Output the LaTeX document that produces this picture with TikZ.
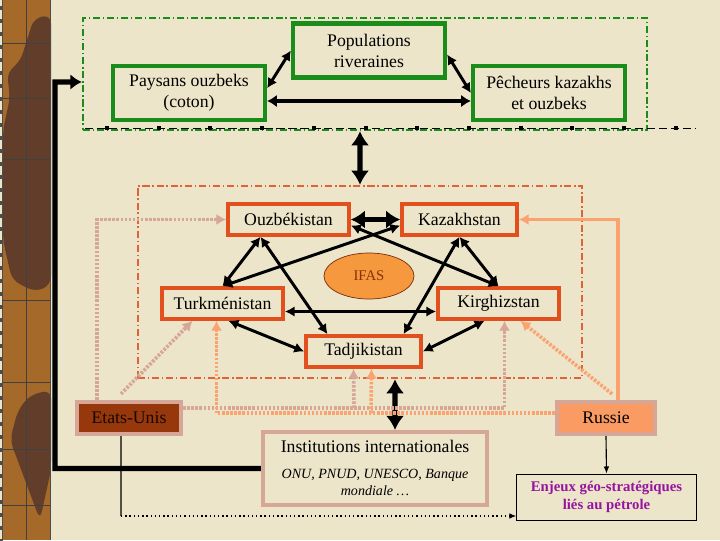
\documentclass[tikz,border=0pt]{standalone}
\usepackage{fontspec}
\setmainfont{Liberation Serif}
\usetikzlibrary{arrows.meta,calc,shapes.geometric}

\definecolor{papier}{RGB}{236,229,202}
\definecolor{vert}{RGB}{25,140,25}
\definecolor{rouille}{RGB}{226,80,30}
\definecolor{cadre}{RGB}{222,100,55}
\definecolor{sable}{RGB}{214,166,150}
\definecolor{saumon}{RGB}{250,163,112}
\definecolor{brique}{RGB}{150,55,12}
\definecolor{abricot}{RGB}{246,152,62}
\definecolor{pelure}{RGB}{250,155,100}
\definecolor{prune}{RGB}{150,20,160}
\definecolor{pellicule}{RGB}{165,105,42}
\definecolor{pelliculesombre}{RGB}{98,62,42}

\begin{document}
\begin{tikzpicture}[x=0.025cm,y=-0.025cm,
    font=\fontsize{12.6}{15}\selectfont,
    peuple/.style={draw=vert,line width=3pt,align=center,minimum width=3.8cm,minimum height=1.35cm},
    pays/.style={draw=rouille,line width=2.6pt,minimum height=0.775cm},
    zone/.style={line width=1.7pt,dash pattern=on 5pt off 2pt on 1pt off 2pt},
    externe/.style={draw=sable,line width=3pt,minimum height=0.8cm},
    lien/.style={line width=2.1pt,{Latex[length=7pt,width=7.5pt]}-{Latex[length=7pt,width=7.5pt]}},
    gros lien/.style={line width=3.8pt,{Latex[length=10pt,width=13pt]}-{Latex[length=10pt,width=13pt]}},
    pointille/.style={line width=2.6pt,dash pattern=on 1.8pt off 1.1pt,-{Latex[length=7pt,width=8pt]}}]
    % Paper
    \fill[papier] (0,0) rectangle (720,540);
    \useasboundingbox (0,0) rectangle (720,540);
    % Film strip on the left
    \fill[pellicule] (2,0) rectangle (51,540);
    \fill[pelliculesombre,rounded corners=6pt] (34,18) -- (51,15) -- (51,285) -- (35,292) -- (12,280) -- (3,240)
        -- (3,130) -- (10,98) -- (7,72) -- (20,62) -- (27,40) -- cycle;
    \fill[pelliculesombre,rounded corners=6pt] (30,395) -- (51,390) -- (51,470) -- (40,520) -- (25,480) -- (10,440) -- (18,410) -- cycle;
    \draw[black!75,line width=0.6pt] (26,0) -- (26,540);
    \foreach \y in {43,98,159,300,382,449,505} \draw[black!75,line width=0.6pt] (2,\y) -- (51,\y);
    \foreach \y in {6,19,...,540} \fill[black!70] (0,\y) rectangle (2.5,\y+4);
    \draw[black!70,line width=0.5pt] (2.5,0) -- (2.5,540) (50.5,0) -- (50.5,540);

    % Frames
    \node[zone,draw=vert,minimum width=14.1cm,minimum height=2.8cm] (riverains) at (365,74) {};
    \draw[line width=0.6pt,dash pattern=on 6pt off 2.5pt] (85,128) -- (695,128);
    \foreach \k in {0,...,11} \fill ({107+51.7*\k-2},126) rectangle ++(4,4);
    \node[zone,draw=cadre,minimum width=11.1cm,minimum height=4.8cm] (asie) at (360,282) {};

    % Local actors
    \node[peuple] (populations) at (369,50.5) {Populations\\riveraines};
    \node[peuple] (paysans) at (189,93) {Paysans ouzbeks\\(coton)};
    \node[peuple] (pecheurs) at (549,93) {Pêcheurs kazakhs\\et ouzbeks};

    % States
    \node[pays,minimum width=3.025cm] (ouz) at (288.5,219.5) {Ouzbékistan};
    \node[pays,minimum width=2.875cm] (kaz) at (459.5,219.5) {Kazakhstan};
    \node[pays,minimum width=3.025cm] (turk) at (222.5,303.5) {Turkménistan};
    \node[pays,minimum width=3.025cm] (kirg) at (498.5,303.5) {Kirghizstan};
    \node[pays,minimum width=2.875cm] (tadj) at (363.5,351.5) {Tadjikistan};
    \node[ellipse,draw=brique!80!black,line width=0.5pt,fill=abricot,minimum width=2.25cm,minimum height=1.15cm,inner sep=0pt,
          text=brique!90!black,font=\fontsize{10.5}{12}\selectfont] (ifas) at (369,276) {IFAS};

    % Outside actors
    \node[externe,fill=brique,minimum width=2.6cm,text=black!85!brique] (usa) at (129,418) {Etats-Unis};
    \node[externe,fill=pelure,minimum width=2.45cm] (russie) at (606,418) {Russie};
    \node[externe,minimum width=5.6cm,minimum height=1.825cm] (inst) at (375,468.5) {};
    \node (instnom) at (375,446) {Institutions internationales};
    \node[align=center,font=\fontsize{10}{12}\selectfont\itshape] (sigles) at (375,482) {ONU, PNUD, UNESCO, Banque\\mondiale \ldots};
    \node[draw,line width=0.7pt,align=center,minimum width=4.475cm,minimum height=1.15cm,text=prune,
          font=\fontsize{10.5}{13}\selectfont\bfseries] (enjeux) at (606.5,497) {Enjeux géo-stratégiques\\liés au pétrole};

    % Links between local actors
    \draw[line width=2.9pt,{Latex[length=7pt,width=9pt]}-{Latex[length=7pt,width=9pt]}] ([yshift=-0.2cm]paysans.east) -- ([yshift=-0.2cm]pecheurs.west);
    \draw[lien] ([yshift=0.12cm]paysans.east) -- (populations.west);
    \draw[lien] ([yshift=-0.1cm]populations.east) -- (pecheurs.west);
    \draw[gros lien] ([xshift=-0.125cm]riverains.south) -- (asie.north);

    % Links between states
    \draw[gros lien] (ouz.east) -- (kaz.west);
    \draw[lien] ([xshift=-0.7cm]ouz.south) -- (turk.north);
    \draw[lien] ([xshift=-0.7cm]ouz.south) -- ([xshift=-0.9cm]tadj.north);
    \draw[lien] (kaz.south) -- (kirg.north);
    \draw[lien] (kaz.south) -- ([xshift=1cm]tadj.north);
    \draw[lien] ([yshift=-0.15cm]ouz.east) -- (kirg.north);
    \draw[lien] ([yshift=-0.15cm]kaz.west) -- (turk.north);
    \draw[lien] ([yshift=-0.2cm]turk.east) -- ([yshift=-0.2cm]kirg.west);
    \draw[lien] ([xshift=0.15cm]turk.south) -- (tadj.west);
    \draw[lien] ([xshift=-0.35cm]kirg.south) -- (tadj.east);
    \draw[gros lien] ([xshift=0.875cm]asie.south) -- ([xshift=0.5cm]inst.north);

    % Etats-Unis
    \draw[pointille,draw=sable] ([xshift=-0.8cm]usa.north) |- (ouz.west);
    \draw[pointille,draw=sable] ([xshift=-0.2cm,yshift=0.15cm]usa.north) -- ([xshift=-0.75cm]turk.south);
    \draw[pointille,draw=sable] ([yshift=0.25cm]usa.east) -| ([xshift=0.15cm]kirg.south);
    \coordinate (jonctionEU) at (354,408);
    \draw[pointille,draw=sable] (jonctionEU) -- ([xshift=-0.25cm]tadj.south);

    % Russie
    \draw[pointille,draw=saumon] ([yshift=0.12cm]russie.west) -| ([xshift=-0.15cm]turk.south);
    \coordinate (jonctionRU) at (371,413);
    \draw[pointille,draw=saumon] (jonctionRU) -- ([xshift=0.2cm]tadj.south);
    \draw[pointille,draw=saumon] ([xshift=0.15cm,yshift=0.15cm]russie.north) -- ([xshift=0.55cm]kirg.south);
    \draw[saumon,line width=2.2pt,-{Latex[length=7pt,width=8pt]}] ([xshift=0.3cm]russie.north) |- (kaz.east);

    % Institutions back to the people
    \coordinate (barre) at (55,82);
    \draw[line width=3.6pt,-{Latex[length=8pt,width=11pt]}] (inst.west) -| (barre) -- ([yshift=-0.2cm]riverains.west);

    % Oil stakes
    \coordinate (coinEU) at (121,516);
    \draw[line width=0.8pt] ([xshift=-0.2cm]usa.south) -- (coinEU);
    \draw[line width=1pt,dotted,-{Latex[length=5pt,width=4pt]}] (coinEU) -- (coinEU -| enjeux.west);
    \draw[line width=0.8pt,-{Latex[length=5pt,width=4pt]}] (russie.south) -- (enjeux.north);
\end{tikzpicture}
\end{document}
